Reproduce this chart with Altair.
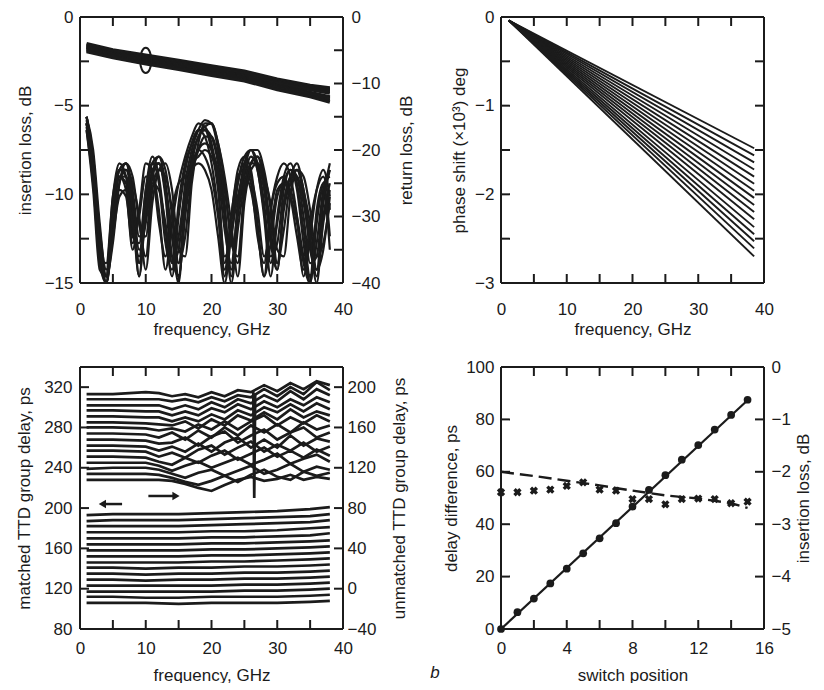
import altair as alt
import pandas as pd

FONT = "Liberation Sans"
FS = 17
INK = "#1b1b1b"

# ---------------- top-left: insertion loss / return loss ----------------
IL_FREQ = [1, 5, 10, 15, 20, 25, 30, 35, 38]
IL_CURVES = [
    [-1.50, -1.85, -2.15, -2.45, -2.75, -3.05, -3.50, -3.85, -4.00],
    [-1.55, -1.90, -2.20, -2.50, -2.80, -3.10, -3.55, -3.90, -4.05],
    [-1.60, -1.95, -2.25, -2.55, -2.85, -3.15, -3.60, -3.95, -4.10],
    [-1.65, -2.00, -2.30, -2.60, -2.90, -3.20, -3.65, -4.00, -4.15],
    [-1.70, -2.05, -2.35, -2.65, -2.95, -3.30, -3.70, -4.05, -4.20],
    [-1.72, -2.08, -2.40, -2.70, -3.00, -3.35, -3.75, -4.10, -4.30],
    [-1.75, -2.10, -2.45, -2.75, -3.05, -3.40, -3.85, -4.25, -4.50],
    [-1.80, -2.15, -2.50, -2.80, -3.10, -3.45, -3.90, -4.30, -4.55],
    [-1.85, -2.20, -2.55, -2.85, -3.15, -3.50, -3.95, -4.35, -4.60],
    [-1.90, -2.25, -2.60, -2.90, -3.20, -3.55, -4.00, -4.45, -4.70],
    [-1.95, -2.30, -2.65, -2.95, -3.30, -3.60, -4.10, -4.50, -4.80],
]
ELLIPSE_FREQ = [10]
ELLIPSE_IL = [-2.45]

RL_FREQ = list(range(1, 39))
RL_CURVES = [
    [-15, -21, -33, -40, -30, -24, -26, -35, -29, -22, -23, -29, -38, -31, -25, -21, -18, -16, -16.5, -19,
     -25, -37, -30, -23, -21, -23, -31, -39, -29, -24, -22, -24, -30, -39, -33, -26, -23, -27],
    [-16, -24, -36, -37, -27, -23, -24, -30, -39, -27, -22, -21, -25, -33, -40, -27, -21, -18, -17, -18,
     -22, -29, -38, -28, -22, -20, -22, -28, -37, -31, -25, -23, -26, -34, -40, -31, -25, -24],
    [-15, -20, -31, -39, -34, -25, -22, -24, -31, -36, -26, -23, -24, -29, -37, -33, -24, -20, -18, -18,
     -21, -26, -33, -37, -27, -22, -21, -24, -32, -38, -28, -24, -23, -27, -35, -38, -28, -23],
    [-17, -26, -38, -39, -28, -23, -23, -28, -37, -30, -23, -22, -27, -37, -35, -25, -20, -17, -15.5, -16,
     -20, -28, -39, -30, -24, -21, -23, -30, -39, -30, -24, -22, -25, -32, -39, -34, -26, -23],
    [-16, -23, -35, -40, -31, -24, -25, -33, -34, -26, -22, -25, -34, -38, -28, -22, -19, -17, -17, -20,
     -26, -36, -33, -25, -21, -20, -23, -29, -36, -34, -26, -23, -24, -30, -37, -36, -27, -22],
    [-15.5, -22, -34, -39, -29, -23, -22, -26, -33, -33, -24, -21, -23, -30, -39, -30, -23, -20, -19, -20,
     -23, -30, -40, -32, -25, -22, -21, -25, -33, -37, -29, -25, -24, -28, -34, -40, -30, -25],
    [-16.5, -24, -36, -40, -32, -25, -23, -25, -30, -38, -28, -23, -22, -26, -35, -36, -25, -19, -16, -16,
     -19, -25, -34, -36, -26, -22, -22, -26, -34, -38, -28, -24, -22, -26, -31, -38, -35, -27],
    [-15, -21, -32, -38, -27, -22, -24, -32, -36, -26, -21, -24, -32, -39, -30, -23, -19, -17, -18, -22,
     -29, -39, -30, -24, -23, -25, -33, -37, -29, -25, -24, -27, -33, -38, -31, -26, -24, -29],
    [-16, -23, -34, -39, -28, -23, -22, -27, -35, -31, -24, -22, -26, -33, -37, -28, -22, -21, -20, -21,
     -24, -32, -37, -29, -23, -20, -20, -23, -29, -37, -32, -25, -23, -26, -33, -39, -31, -26],
    [-17, -25, -37, -40, -29, -24, -24, -29, -39, -29, -22, -22, -26, -36, -39, -29, -22, -18, -16.5, -16,
     -19, -24, -31, -39, -28, -23, -22, -24, -28, -35, -36, -27, -23, -24, -29, -36, -34, -28],
    [-15, -22, -35, -39, -30, -26, -27, -34, -30, -24, -24, -31, -36, -29, -25, -24, -22, -20, -21, -24,
     -30, -38, -31, -25, -22, -24, -29, -36, -32, -26, -25, -26, -30, -36, -39, -29, -25, -33],
    [-16, -23, -34, -40, -33, -27, -26, -31, -37, -29, -25, -26, -31, -37, -33, -26, -23, -22, -23, -26,
     -33, -40, -33, -27, -24, -26, -32, -39, -34, -27, -25, -27, -31, -37, -40, -30, -26, -35],
]

# ---------------- top-right: phase shift ----------------
PH_FREQ = [1.2, 38.5]
PH_START = -0.04
PH_END = [-1.48, -1.56, -1.64, -1.72, -1.80, -1.88, -1.96, -2.04,
          -2.12, -2.20, -2.28, -2.37, -2.45, -2.53, -2.61, -2.70]

# ---------------- bottom-left: group delay ----------------
GDM_FREQ = [1, 5, 10, 15, 20, 25, 30, 35, 38]
GD_MATCHED = [
    [106, 106, 106, 105, 106, 106, 106, 107, 108],
    [112, 112, 111, 111, 112, 112, 112, 113, 114],
    [117, 117, 117, 117, 117, 118, 118, 119, 120],
    [123, 123, 123, 123, 123, 124, 124, 125, 126],
    [129, 129, 128, 129, 129, 130, 130, 131, 132],
    [135, 135, 134, 135, 135, 136, 136, 137, 138],
    [141, 141, 140, 141, 141, 142, 142, 143, 144],
    [146, 146, 146, 146, 147, 147, 148, 149, 150],
    [152, 152, 152, 152, 153, 153, 154, 155, 156],
    [158, 158, 158, 158, 159, 159, 160, 161, 162],
    [164, 164, 164, 164, 165, 165, 166, 167, 168],
    [170, 170, 170, 170, 171, 171, 172, 173, 175],
    [176, 176, 176, 176, 177, 177, 178, 180, 181],
    [182, 182, 182, 182, 183, 184, 185, 186, 188],
    [187, 188, 188, 188, 189, 190, 191, 192, 194],
    [193, 194, 194, 194, 195, 196, 197, 199, 201],
]
GDU_FREQ = [1, 5, 10, 12, 14, 16, 18, 20, 22, 24, 26, 28, 30, 32, 34, 36, 38]
GD_UNMATCHED = [
    [108, 108, 108, 108, 107, 104, 100, 97, 103, 108, 111, 107, 109, 113, 108, 111, 109],
    [114, 114, 114, 113, 110, 106, 103, 107, 112, 106, 113, 118, 111, 108, 116, 112, 115],
    [119, 120, 120, 118, 114, 110, 115, 118, 112, 117, 122, 114, 118, 124, 116, 121, 118],
    [125, 125, 125, 122, 117, 122, 126, 120, 125, 130, 123, 128, 134, 124, 129, 133, 126],
    [131, 131, 130, 126, 123, 130, 125, 132, 137, 128, 134, 140, 131, 137, 130, 138, 132],
    [137, 137, 136, 131, 135, 130, 138, 142, 133, 140, 146, 136, 143, 137, 145, 136, 141],
    [142, 142, 141, 137, 141, 136, 144, 136, 145, 150, 140, 148, 140, 152, 142, 149, 146],
    [148, 148, 147, 144, 145, 150, 142, 151, 156, 145, 152, 158, 148, 155, 160, 150, 155],
    [154, 154, 153, 150, 155, 148, 157, 150, 160, 152, 162, 155, 163, 155, 165, 158, 162],
    [160, 160, 159, 157, 159, 156, 163, 158, 166, 158, 166, 172, 162, 170, 164, 172, 166],
    [165, 165, 164, 163, 162, 166, 159, 168, 162, 172, 167, 175, 168, 178, 170, 176, 172],
    [171, 171, 170, 170, 166, 170, 166, 173, 168, 177, 172, 180, 175, 183, 176, 184, 178],
    [177, 177, 176, 176, 172, 176, 172, 179, 175, 183, 178, 186, 180, 188, 182, 190, 185],
    [182, 182, 182, 182, 178, 182, 178, 185, 180, 188, 184, 192, 186, 196, 188, 198, 192],
    [188, 188, 188, 188, 186, 188, 185, 190, 186, 192, 190, 198, 191, 200, 193, 205, 197],
    [193, 193, 195, 194, 191, 193, 190, 195, 191, 197, 195, 202, 196, 204, 198, 206, 202],
]
SPIKE_FREQ = [26.35, 26.5, 26.65]
SPIKE_DELAY = [196, 90, 194]
ARROW_FROM = [6.4, 10.4]
ARROW_TO = [3.4, 14.6]
ARROW_DELAY = [204, 212]
ARROW_HEAD = ["triangle-left", "triangle-right"]

# ---------------- bottom-right: switch positions ----------------
SW_POS = list(range(16))
SW_DELAY = [0, 6.4, 11.6, 17.4, 23.0, 28.9, 34.6, 40.4, 46.7, 53.1, 58.7, 64.6, 70.2, 76.1, 81.7, 87.5]
SW_FIT_POS = [0, 15]
SW_FIT_DELAY = [0, 87.3]
SW_IL = [-2.39, -2.39, -2.36, -2.34, -2.27, -2.20, -2.34, -2.36, -2.52, -2.52, -2.62, -2.52, -2.51, -2.52, -2.60, -2.57]
SW_ILFIT_POS = [0, 2, 4, 6, 8, 10, 12, 14, 15]
SW_ILFIT = [-2.00, -2.08, -2.17, -2.26, -2.36, -2.45, -2.51, -2.60, -2.69]
ANNOT = ["b"]

# axis domains and tick positions
FREQ_DOM = [0, 40]
IL_DOM = [-15, 0]
RL_DOM = [-40, 0]
PH_DOM = [-3, 0]
GDM_DOM = [80, 340]
GDU_DOM = [-40, 220]
POS_DOM = [0, 16]
DD_DOM = [0, 100]
SWIL_DOM = [-5, 0]
FREQ_TICKS = [0, 5, 10, 15, 20, 25, 30, 35, 40]
IL_TICKS = [-15, -12.5, -10, -7.5, -5, -2.5, 0]
RL_TICKS = [-40, -35, -30, -25, -20, -15, -10, -5, 0]
PH_TICKS = [-3, -2.5, -2, -1.5, -1, -0.5, 0]
GDM_TICKS = [80, 120, 160, 200, 240, 280, 320]
GDU_TICKS = [-40, 0, 40, 80, 120, 160, 200]
POS_TICKS = [0, 2, 4, 6, 8, 10, 12, 14, 16]
DD_TICKS = [0, 20, 40, 60, 80, 100]
SWIL_TICKS = [-5, -4, -3, -2, -1, 0]

TICK_PX = 9
LW = 2.0

W, H = 263, 266
H2 = 262


def long(freqs, curves):
    return pd.DataFrame([{"f": f, "v": v, "c": i}
                         for i, cur in enumerate(curves) for f, v in zip(freqs, cur)])


def axis(orient, values, mod=None, title=None, label_pad=3, title_pad=8, fmt=None):
    args = dict(orient=orient, values=values, labelPadding=label_pad, titlePadding=title_pad,
                ticks=False, tickSize=0, title=title)
    if fmt is not None:
        args["format"] = fmt
    if mod is not None:
        args["labelExpr"] = f"abs(datum.value) % {mod} < 1e-6 ? datum.label : ''"
    if orient == "right":
        args["titleAngle"] = 270
        args["titleBaseline"] = "top"
    return alt.Axis(**args)


def rules_h(xenc, yenc, rows):
    # horizontal segments: columns f, f2, v
    return alt.Chart(pd.DataFrame(rows)).mark_rule(color=INK, strokeWidth=LW).encode(
        x=xenc, x2="f2:Q", y=yenc)


def rules_v(xenc, yenc, rows):
    # vertical segments: columns f, v, v2
    return alt.Chart(pd.DataFrame(rows)).mark_rule(color=INK, strokeWidth=LW).encode(
        x=xenc, y=yenc, y2="v2:Q")


def frame_and_xticks(xenc, yenc, xd, yd, xticks, yticks_left, h, w):
    """Plot frame, inward x ticks (bottom+top) and inward left y ticks, all on the left scales."""
    dy = (yd[1] - yd[0]) * TICK_PX / h
    dx = (xd[1] - xd[0]) * TICK_PX / w
    horiz = [{"f": xd[0], "f2": xd[1], "v": yd[0]}, {"f": xd[0], "f2": xd[1], "v": yd[1]}]
    horiz += [{"f": xd[0], "f2": xd[0] + dx, "v": t} for t in yticks_left]
    vert = [{"f": xd[0], "v": yd[0], "v2": yd[1]}, {"f": xd[1], "v": yd[0], "v2": yd[1]}]
    vert += [{"f": t, "v": yd[0], "v2": yd[0] + dy} for t in xticks]
    vert += [{"f": t, "v": yd[1], "v2": yd[1] - dy} for t in xticks]
    return [rules_h(xenc, yenc, horiz), rules_v(xenc, yenc, vert)]


def right_ticks(xenc, yenc, xd, ticks, w):
    dx = (xd[1] - xd[0]) * TICK_PX / w
    return rules_h(xenc, yenc, [{"f": xd[1] - dx, "f2": xd[1], "v": t} for t in ticks])


def scale(d):
    return alt.Scale(domain=d, nice=False, zero=False)


fscale = scale(FREQ_DOM)


def xb(label_pad=18, title_pad=4):
    return alt.X("f:Q", scale=fscale,
                 axis=axis("bottom", FREQ_TICKS, 10, "frequency, GHz", label_pad=label_pad, title_pad=title_pad))


X_NOAXIS = alt.X("f:Q", scale=fscale, axis=None)

# ---- panel 1
il_df = long(IL_FREQ, IL_CURVES)
rl_df = long(RL_FREQ, RL_CURVES)
ell_df = pd.DataFrame({"f": ELLIPSE_FREQ, "v": ELLIPSE_IL})
x1 = xb()
y_il = alt.Y("v:Q", scale=scale(IL_DOM),
             axis=axis("left", IL_TICKS, 5, "insertion loss, dB", label_pad=7, title_pad=10))
y_rl = alt.Y("v:Q", scale=scale(RL_DOM),
             axis=axis("right", RL_TICKS, 10, "return loss, dB", label_pad=8, title_pad=19))
il = alt.Chart(il_df).mark_line(color=INK, strokeWidth=3.2).encode(x=x1, y=y_il, detail="c:N")
ell = alt.Chart(ell_df).mark_point(
    shape="M0,-1A0.44,1 0 1,1 0,1A0.44,1 0 1,1 0,-1Z", filled=False, size=640,
    color=INK, strokeWidth=2, opacity=1).encode(x=x1, y=y_il)
rl = alt.Chart(rl_df).mark_line(color=INK, strokeWidth=2.2, interpolate="monotone", clip=True).encode(
    x=X_NOAXIS, y=y_rl, detail="c:N")
left1 = alt.layer(il, ell, *frame_and_xticks(x1, y_il, FREQ_DOM, IL_DOM, FREQ_TICKS, IL_TICKS, H, W))
right1 = alt.layer(rl, right_ticks(X_NOAXIS, y_rl, FREQ_DOM, RL_TICKS, W))
p1 = alt.layer(left1, right1).resolve_scale(y="independent").resolve_axis(
    x="independent", y="independent").properties(width=W, height=H)

# ---- panel 2
ph_df = pd.DataFrame([{"f": f, "v": v, "c": i}
                      for i, e in enumerate(PH_END) for f, v in zip(PH_FREQ, [PH_START, e])])
x2 = xb()
y_ph = alt.Y("v:Q", scale=scale(PH_DOM),
             axis=axis("left", PH_TICKS, 1, "phase shift (×10³) deg", label_pad=7, title_pad=6, fmt="~g"))
ph = alt.Chart(ph_df).mark_line(color=INK, strokeWidth=1.9).encode(x=x2, y=y_ph, detail="c:N")
p2 = alt.layer(
    ph, *frame_and_xticks(x2, y_ph, FREQ_DOM, PH_DOM, FREQ_TICKS, PH_TICKS, H, W),
    right_ticks(x2, y_ph, FREQ_DOM, PH_TICKS, W)).properties(width=W, height=H)

# ---- panel 3
gdm_df = long(GDM_FREQ, GD_MATCHED)
gdu_df = long(GDU_FREQ, GD_UNMATCHED)
spike_df = pd.DataFrame({"f": SPIKE_FREQ, "v": SPIKE_DELAY, "c": [99] * len(SPIKE_FREQ)})
arrow_df = pd.DataFrame({"f": ARROW_FROM, "f2": ARROW_TO, "v": ARROW_DELAY, "head": ARROW_HEAD})
x3 = xb(label_pad=11, title_pad=11)
y_m = alt.Y("v:Q", scale=scale(GDM_DOM),
            axis=axis("left", GDM_TICKS, None, "matched TTD group delay, ps", label_pad=8, title_pad=10))
y_u = alt.Y("v:Q", scale=scale(GDU_DOM),
            axis=axis("right", GDU_TICKS, None, "unmatched TTD group delay, ps", label_pad=4, title_pad=16))
gdm = alt.Chart(gdm_df).mark_line(color=INK, strokeWidth=2.7).encode(x=x3, y=y_m, detail="c:N")
arr_line = alt.Chart(arrow_df).mark_rule(color=INK, strokeWidth=2.5).encode(x=x3, x2="f2:Q", y=y_m)
arr_head = alt.Chart(arrow_df).mark_point(filled=True, size=70, color=INK, opacity=1).encode(
    x=alt.X("f2:Q", scale=fscale,
            axis=axis("bottom", FREQ_TICKS, 10, "frequency, GHz", label_pad=11, title_pad=11)),
    y=y_m, shape=alt.Shape("head:N", scale=None))
gdu = alt.Chart(gdu_df).mark_line(color=INK, strokeWidth=2.7).encode(x=X_NOAXIS, y=y_u, detail="c:N")
spike = alt.Chart(spike_df).mark_line(color=INK, strokeWidth=2.7).encode(x=X_NOAXIS, y=y_u, detail="c:N")
left3 = alt.layer(gdm, arr_line, arr_head,
                  *frame_and_xticks(x3, y_m, FREQ_DOM, GDM_DOM, FREQ_TICKS, GDM_TICKS, H2, W))
right3 = alt.layer(gdu, spike, right_ticks(X_NOAXIS, y_u, FREQ_DOM, GDU_TICKS, W))
p3 = alt.layer(left3, right3).resolve_scale(y="independent").resolve_axis(
    x="independent", y="independent").properties(width=W, height=H2)

# ---- panel 4
pscale = scale(POS_DOM)
x4 = alt.X("f:Q", scale=pscale,
           axis=axis("bottom", POS_TICKS, 4, "switch position", label_pad=11, title_pad=11))
x4n = alt.X("f:Q", scale=pscale, axis=None)
y_d = alt.Y("v:Q", scale=scale(DD_DOM),
            axis=axis("left", DD_TICKS, None, "delay difference, ps", label_pad=7, title_pad=5))
y_l = alt.Y("v:Q", scale=scale(SWIL_DOM),
            axis=axis("right", SWIL_TICKS, None, "insertion loss, dB", label_pad=7, title_pad=5))
fit = alt.Chart(pd.DataFrame({"f": SW_FIT_POS, "v": SW_FIT_DELAY})).mark_line(
    color=INK, strokeWidth=2.2).encode(x=x4, y=y_d)
dots = alt.Chart(pd.DataFrame({"f": SW_POS, "v": SW_DELAY})).mark_point(
    filled=True, shape="circle", size=60, color=INK, opacity=1).encode(x=x4, y=y_d)
ilfit = alt.Chart(pd.DataFrame({"f": SW_ILFIT_POS, "v": SW_ILFIT})).mark_line(
    color=INK, strokeWidth=2.4, strokeDash=[13, 6]).encode(x=x4n, y=y_l)
crosses = alt.Chart(pd.DataFrame({"f": SW_POS, "v": SW_IL})).mark_point(
    shape="cross", angle=45, filled=True, size=70, color=INK, opacity=1).encode(x=x4n, y=y_l)
label_b = alt.Chart(pd.DataFrame({"t": ANNOT})).mark_text(
    font=FONT, fontSize=FS, fontStyle="italic", color=INK, align="center", baseline="middle").encode(
    x=alt.value(-66), y=alt.value(306), text="t:N")
left4 = alt.layer(fit, dots, label_b,
                  *frame_and_xticks(x4, y_d, POS_DOM, DD_DOM, POS_TICKS, DD_TICKS, H2, W))
right4 = alt.layer(ilfit, crosses, right_ticks(x4n, y_l, POS_DOM, SWIL_TICKS, W))
p4 = alt.layer(left4, right4).resolve_scale(y="independent").resolve_axis(
    x="independent", y="independent").properties(width=W, height=H2)

chart = alt.concat(p1, p2, p3, p4, columns=2, spacing={"row": 84, "column": 158},
                   bounds="flush").properties(
    padding={"left": 7, "top": 0, "right": 0, "bottom": 0}
).configure_view(stroke=None).configure_axis(
    labelFont=FONT, titleFont=FONT, labelFontSize=FS, titleFontSize=FS,
    labelColor=INK, titleColor=INK,
    domain=False, grid=False, titleFontWeight="normal", labelFlush=False, labelOverlap=False
)

chart.save("out.html", embed_options={"renderer": "svg", "actions": False})
